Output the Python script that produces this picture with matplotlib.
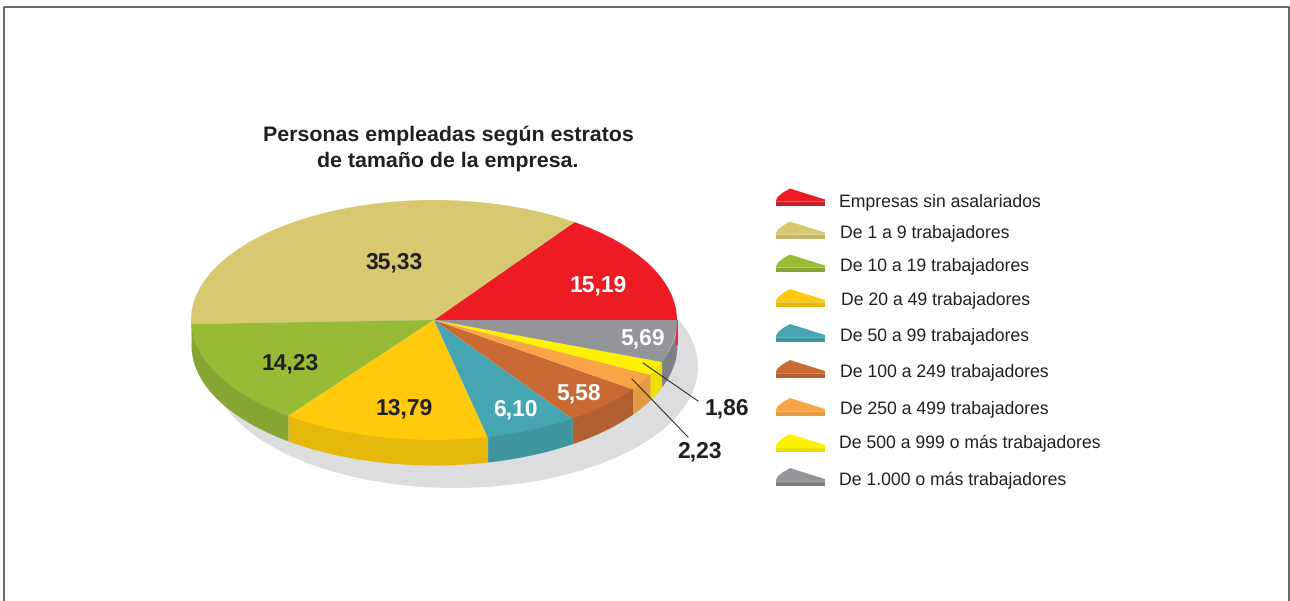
import numpy as np
import matplotlib
matplotlib.use("Agg")
import matplotlib.pyplot as plt
from matplotlib.patches import Ellipse, Polygon

plt.rcParams['font.family'] = ['Liberation Sans', 'DejaVu Sans']
plt.rcParams['text.hinting'] = 'no_hinting'

title = "Personas empleadas según estratos\nde tamaño de la empresa."
categories = ["Empresas sin asalariados", "De 1 a 9 trabajadores", "De 10 a 19 trabajadores",
              "De 20 a 49 trabajadores", "De 50 a 99 trabajadores", "De 100 a 249 trabajadores",
              "De 250 a 499 trabajadores", "De 500 a 999 o más trabajadores", "De 1.000 o más trabajadores"]
values = [15.19, 35.33, 14.23, 13.79, 6.10, 5.58, 2.23, 1.86, 5.69]
top_colors = ["#ed1c24", "#d6c96f", "#97bb34", "#ffc90c", "#45a6b2", "#c96a35", "#f9a446", "#fff200", "#939598"]
wall_colors = ["#c8202a", "#c2b668", "#85a632", "#e6b80c", "#3f959f", "#b26030", "#e39a42", "#ece000", "#7f8085"]

# posicion de las etiquetas en pixeles
label_pos = [(598, 285), (394, 262), (290, 363), (404, 408), (515, 409), (579, 393), (699, 451), (727, 408), (643, 338)]
label_col = ["white", "#231f20", "#231f20", "#231f20", "white", "white", "#231f20", "#231f20", "white"]
legend_y = [198, 231, 264, 298.5, 333.5, 369.5, 407.5, 443.5, 477.5]
legend_tx = [839, 840, 840, 841, 840, 840, 840, 839, 839]
legend_ty = [201.5, 232.5, 265.5, 299.5, 335.5, 371.5, 408.5, 442.5, 479.5]

W, H = 1290, 601
cx, cy, rx, ry, depth = 434, 320, 243, 120, 25

fig = plt.figure(figsize=(W / 100, H / 100), dpi=100)

# ejes en unidades del radio: la elipse sale de escalar x e y por separado
ax = fig.add_axes([0, 0, 1, 1])
ax.pie(values, colors=top_colors, startangle=0, counterclock=True, radius=1,
       wedgeprops={"linewidth": 0, "zorder": 4})
ax.set_aspect("auto")
ax.set_xlim(-cx / rx, (W - cx) / rx)
ax.set_ylim((cy - H) / ry, cy / ry)
ax.axis("off")

# sombra
ax.add_patch(Ellipse((21 / rx, -47 / ry), 2.0, 242 / ry, color="#dcddde", lw=0, zorder=1))

# paredes del cilindro
edges = np.cumsum([0] + values) / sum(values) * 2 * np.pi
for i in range(len(values)):
    a0 = max(edges[i], np.pi)
    a1 = edges[i + 1]
    if a1 <= np.pi:
        continue
    t = np.linspace(a0, a1, 80)
    # sube un poco por debajo de la tapa para que no quede una raya blanca
    ax.fill_between(np.cos(t), np.sin(t) - depth / ry, np.sin(t) * 0.97, color=wall_colors[i], lw=0, zorder=3)
ax.plot([1, 1], [0, -depth / ry], color=top_colors[0], lw=1.2, zorder=3.5, solid_capstyle="butt")

# capa en pixeles para textos y leyenda
ov = fig.add_axes([0, 0, 1, 1], facecolor="none")
ov.set_xlim(0, W)
ov.set_ylim(H, 0)
ov.axis("off")

# marco
ov.plot([3.5, 3.5, 1289, 1289], [H, 6.5, 6.5, H], color="#4d4d4d", lw=1.2, zorder=6)

ov.text(448, 148, title, ha="center", va="center", fontsize=15.37, fontweight="bold",
        color="#231f20", linespacing=1.38, zorder=7)

for v, (x, y), c in zip(values, label_pos, label_col):
    ov.text(x, y, f"{v:.2f}".replace(".", ","), ha="center", va="center", fontsize=16.5,
            fontweight="bold", color=c, zorder=7)

# lineas de las etiquetas pequeñas
ov.plot([643, 698], [363, 401], color="#231f20", lw=0.7, zorder=6)
ov.plot([632, 688], [379, 437], color="#231f20", lw=0.7, zorder=6)

# leyenda: mismo dibujo de porcion para cada estrato
shape = np.array([[776, 2], [778, -1.5], [783, -5.5], [790, -9.5], [825, 1.5], [825, 8], [776, 8]])
for name, y, tx, ty, c, w in zip(categories, legend_y, legend_tx, legend_ty, top_colors, wall_colors):
    ov.add_patch(Polygon(shape + [0, y], closed=True, fc=c, ec="none", zorder=5))
    ov.add_patch(Polygon([[776, y + 3.5], [825, y + 3.5], [825, y + 8], [776, y + 8]], closed=True, fc=w, ec="none", zorder=5))
    ov.plot([776, 825], [y + 3.2, y + 3.2], color="white", alpha=0.35, lw=0.6, zorder=5.5)
    ov.text(tx, ty, name, ha="left", va="center", fontsize=12.72, color="#231f20", zorder=7)

fig.savefig("out.png", dpi=100, facecolor="white")
